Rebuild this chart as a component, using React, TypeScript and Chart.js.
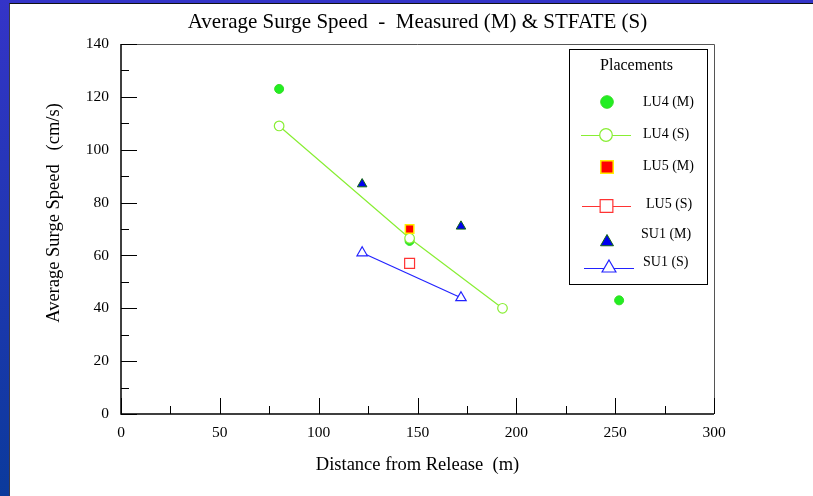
import React, { useEffect, useRef } from "react";
import { Chart, registerables } from "chart.js";
import { drawPoint } from "chart.js/helpers";

Chart.register(...registerables);

// ---- data ----
const LU4_M_X = [80, 146, 252];
const LU4_M_Y = [123, 65.5, 43];
const LU4_S_X = [80, 146, 193];
const LU4_S_Y = [109, 66.5, 40];
const LU5_M_X = [146];
const LU5_M_Y = [70];
const LU5_S_X = [146];
const LU5_S_Y = [57];
const SU1_M_X = [122, 172];
const SU1_M_Y = [87, 71];
const SU1_S_X = [122, 172];
const SU1_S_Y = [61, 44];

const SERIES_LABELS = ["LU4 (M)", "LU4 (S)", "LU5 (M)", "LU5 (S)", "SU1 (M)", "SU1 (S)"];
const X_MIN = 0, X_MAX = 300, X_STEP = 50, X_MINOR = 25;
const Y_MIN = 0, Y_MAX = 140, Y_STEP = 20, Y_MINOR = 10;

const TITLE = "Average Surge Speed  -  Measured (M) & STFATE (S)";
const X_TITLE = "Distance from Release  (m)";
const Y_TITLE = "Average Surge Speed   (cm/s)";
const LEGEND_TITLE = "Placements";

const FONT = "'Liberation Serif', 'DejaVu Serif', serif";

const pts = (xs: number[], ys: number[]) => xs.map((x, i) => ({ x, y: ys[i] }));

const frameTicksPlugin = {
  id: "frameTicks",
  afterDatasetsDraw(chart: any) {
    const { ctx, chartArea: a, scales } = chart;
    const xs = scales.x, ys = scales.y;
    ctx.save();
    // top & right frame
    ctx.strokeStyle = "#555";
    ctx.lineWidth = 1;
    ctx.beginPath();
    ctx.moveTo(a.left, a.top + 0.5);
    ctx.lineTo(a.right + 0.5, a.top + 0.5);
    ctx.lineTo(a.right + 0.5, a.bottom);
    ctx.stroke();
    // left & bottom axes
    ctx.strokeStyle = "#000";
    ctx.lineWidth = 1.5;
    ctx.beginPath();
    ctx.moveTo(a.left, a.top);
    ctx.lineTo(a.left, a.bottom);
    ctx.lineTo(a.right, a.bottom);
    ctx.stroke();
    // inward ticks
    ctx.lineWidth = 1;
    ctx.strokeStyle = "#000";
    ctx.beginPath();
    for (let v = Y_MIN; v <= Y_MAX; v += Y_MINOR) {
      const p = Math.round(ys.getPixelForValue(v)) + 0.5;
      const len = v % Y_STEP === 0 ? 16 : 8;
      ctx.moveTo(a.left, p);
      ctx.lineTo(a.left + len, p);
    }
    for (let v = X_MIN; v <= X_MAX; v += X_MINOR) {
      const p = Math.round(xs.getPixelForValue(v)) + 0.5;
      const len = v % X_STEP === 0 ? 16 : 8;
      ctx.moveTo(p, a.bottom);
      ctx.lineTo(p, a.bottom - len);
    }
    ctx.stroke();
    // title
    ctx.fillStyle = "#000";
    ctx.font = `21px ${FONT}`;
    ctx.textAlign = "center";
    ctx.textBaseline = "middle";
    ctx.fillText(TITLE, (a.left + a.right) / 2, 22);
    // y axis title
    ctx.font = `18.5px ${FONT}`;
    ctx.translate(54, 213);
    ctx.rotate(-Math.PI / 2);
    ctx.fillText(Y_TITLE, 0, 0);
    ctx.restore();
  },
};

const LEG_BOX = { x: 569.5, y: 49.5, w: 138, h: 235 };
const LEG_MARK_Y = [102, 135, 167, 206, 242, 268];
const LEG_TEXT_Y = [102, 134, 166, 204, 234, 262];
const LEG_TEXT_X = [643, 643, 643, 646, 641, 643];
const LEG_LINE = [null, [581, 631], null, [582, 631], null, [584, 634]];

const legendPlugin = {
  id: "customLegend",
  afterDraw(chart: any) {
    const { ctx } = chart;
    ctx.save();
    ctx.fillStyle = "#fff";
    ctx.fillRect(LEG_BOX.x, LEG_BOX.y, LEG_BOX.w, LEG_BOX.h);
    ctx.strokeStyle = "#000";
    ctx.lineWidth = 1;
    ctx.strokeRect(LEG_BOX.x, LEG_BOX.y, LEG_BOX.w, LEG_BOX.h);
    ctx.fillStyle = "#000";
    ctx.font = `16px ${FONT}`;
    ctx.textAlign = "center";
    ctx.textBaseline = "middle";
    ctx.fillText(LEGEND_TITLE, LEG_BOX.x + LEG_BOX.w / 2 - 2, 66);
    chart.data.datasets.forEach((ds: any, i: number) => {
      const my = LEG_MARK_Y[i];
      const ln = LEG_LINE[i] as number[] | null;
      const mx = ln ? (ln[0] + ln[1]) / 2 : 607;
      if (ln) {
        ctx.strokeStyle = ds.borderColor;
        ctx.lineWidth = 1.2;
        ctx.beginPath();
        ctx.moveTo(ln[0], my + 0.5);
        ctx.lineTo(ln[1], my + 0.5);
        ctx.stroke();
      }
      ctx.fillStyle = ds.pointBackgroundColor;
      ctx.strokeStyle = ds.pointBorderColor;
      ctx.lineWidth = ds.pointBorderWidth;
      drawPoint(ctx, { pointStyle: ds.pointStyle, radius: ds.legendRadius, rotation: 0, borderWidth: ds.pointBorderWidth }, mx, my);
      ctx.fillStyle = "#000";
      ctx.font = `14px ${FONT}`;
      ctx.textAlign = "left";
      ctx.fillText(ds.label, LEG_TEXT_X[i], LEG_TEXT_Y[i]);
    });
    ctx.restore();
  },
};

export default function App() {
  const ref = useRef<HTMLCanvasElement | null>(null);
  useEffect(() => {
    if (!ref.current) return;
    const mk = (label: string, data: any[], o: any) => ({ label, data, ...o });
    const chart = new Chart(ref.current, {
      type: "scatter",
      data: {
        datasets: [
          mk(SERIES_LABELS[0], pts(LU4_M_X, LU4_M_Y), {
            pointStyle: "circle", pointRadius: 4.5, legendRadius: 6.3,
            pointBackgroundColor: "#22ee22", pointBorderColor: "#33dd22", pointBorderWidth: 1,
            borderColor: "#22ee22", showLine: false, order: 6,
          }),
          mk(SERIES_LABELS[1], pts(LU4_S_X, LU4_S_Y), {
            pointStyle: "circle", pointRadius: 4.8, legendRadius: 6.3,
            pointBackgroundColor: "#ffffff", pointBorderColor: "#88ee33", pointBorderWidth: 1.2,
            borderColor: "#88ee33", borderWidth: 1.2, showLine: true, order: 5,
          }),
          mk(SERIES_LABELS[2], pts(LU5_M_X, LU5_M_Y), {
            pointStyle: "rect", pointRadius: 6, legendRadius: 8.8,
            pointBackgroundColor: "#ff0000", pointBorderColor: "#ffee00", pointBorderWidth: 1.5,
            borderColor: "#ff0000", showLine: false, order: 1,
          }),
          mk(SERIES_LABELS[3], pts(LU5_S_X, LU5_S_Y), {
            pointStyle: "rect", pointRadius: 7, legendRadius: 9,
            pointBackgroundColor: "#ffffff", pointBorderColor: "#ff3333", pointBorderWidth: 1.2,
            borderColor: "#ff3333", borderWidth: 1.2, showLine: false, order: 3,
          }),
          mk(SERIES_LABELS[4], pts(SU1_M_X, SU1_M_Y), {
            pointStyle: "triangle", pointRadius: 5.5, legendRadius: 7.5,
            pointBackgroundColor: "#0000ee", pointBorderColor: "#116611", pointBorderWidth: 1,
            borderColor: "#0000ee", showLine: false, order: 2,
          }),
          mk(SERIES_LABELS[5], pts(SU1_S_X, SU1_S_Y), {
            pointStyle: "triangle", pointRadius: 6, legendRadius: 8,
            pointBackgroundColor: "#ffffff", pointBorderColor: "#2222ff", pointBorderWidth: 1.2,
            borderColor: "#2222ff", borderWidth: 1.2, showLine: true, order: 4,
          }),
        ] as any,
      },
      options: {
        animation: false,
        responsive: false,
        devicePixelRatio: 1,
        layout: { padding: { left: 0, top: 44, right: 99, bottom: 0 } },
        plugins: { legend: { display: false }, tooltip: { enabled: false }, title: { display: false } },
        elements: { line: { tension: 0 } },
        scales: {
          x: {
            type: "linear", min: X_MIN, max: X_MAX,
            grid: { display: false, drawTicks: false }, border: { display: false },
            ticks: { stepSize: X_STEP, padding: 10, color: "#000", font: { family: FONT, size: 15.5 }, maxRotation: 0 },
            title: { display: true, text: X_TITLE, color: "#000", font: { family: FONT, size: 18.5 }, padding: { top: 0, bottom: 20 } },
            afterFit: (s: any) => { s.height = 82; },
          },
          y: {
            type: "linear", min: Y_MIN, max: Y_MAX,
            grid: { display: false, drawTicks: false }, border: { display: false },
            ticks: { stepSize: Y_STEP, padding: 12, color: "#000", font: { family: FONT, size: 15.5 } },
            title: { display: false },
            afterFit: (s: any) => { s.width = 121; },
          },
        },
      } as any,
      plugins: [frameTicksPlugin, legendPlugin],
    });
    return () => chart.destroy();
  }, []);

  return (
    <div style={{ position: "fixed", left: 0, top: 0, width: 813, height: 496, background: "linear-gradient(to bottom, #3434c8, #0b3a9c)", overflow: "hidden" }}>
      <div style={{ position: "absolute", left: 9, top: 3, right: 0, bottom: 0, background: "#fff", borderLeft: "1px solid #3a3a4a", borderTop: "1px solid #111" }} />
      <canvas ref={ref} width={813} height={496} style={{ position: "absolute", left: 0, top: 0, width: 813, height: 496 }} />
    </div>
  );
}
